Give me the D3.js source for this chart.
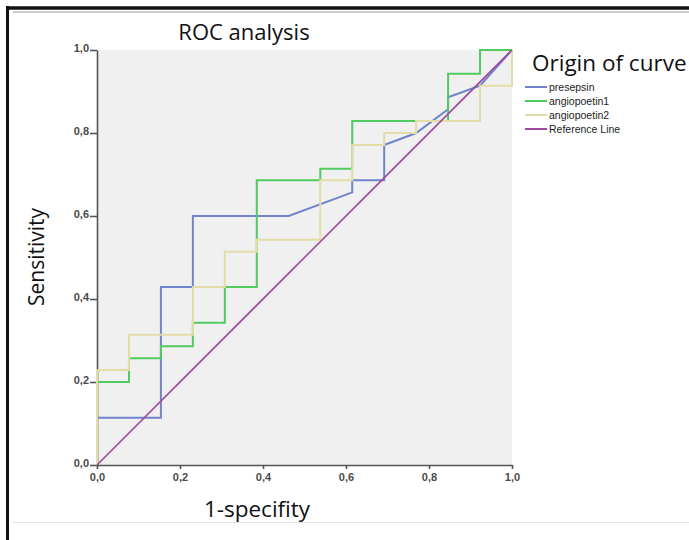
<!DOCTYPE html>
<html>
<head>
<meta charset="utf-8">
<script src="https://cdn.jsdelivr.net/npm/d3@7"></script>
<style>
  body { margin: 0; background: #fff; }
  svg { display: block; }
</style>
</head>
<body>
<div id="chart"></div>
<script>
// ROC points (1-specificity, sensitivity)
var presepsinX = [0, 0, 0.154, 0.154, 0.231, 0.231, 0.462, 0.615, 0.615, 0.692, 0.692, 0.769, 0.846, 0.846, 0.923, 1];
var presepsinY = [0, 0.114, 0.114, 0.429, 0.429, 0.6, 0.6, 0.657, 0.686, 0.686, 0.771, 0.8, 0.857, 0.886, 0.914, 1];

var angio1X = [0, 0, 0.077, 0.077, 0.154, 0.154, 0.231, 0.231, 0.308, 0.308, 0.385, 0.385, 0.538, 0.538, 0.615, 0.615, 0.846, 0.846, 0.923, 0.923, 1];
var angio1Y = [0, 0.2, 0.2, 0.257, 0.257, 0.286, 0.286, 0.343, 0.343, 0.429, 0.429, 0.686, 0.686, 0.714, 0.714, 0.829, 0.829, 0.943, 0.943, 1, 1];

var angio2X = [0, 0, 0.077, 0.077, 0.231, 0.231, 0.308, 0.308, 0.385, 0.385, 0.538, 0.538, 0.615, 0.615, 0.692, 0.692, 0.769, 0.769, 0.923, 0.923, 1, 1];
var angio2Y = [0, 0.229, 0.229, 0.314, 0.314, 0.429, 0.429, 0.514, 0.514, 0.543, 0.543, 0.686, 0.686, 0.771, 0.771, 0.8, 0.8, 0.829, 0.829, 0.914, 0.914, 1];

var refX = [0, 1];
var refY = [0, 1];

var seriesNames = ["presepsin", "angiopoetin1", "angiopoetin2", "Reference Line"];
var tickValues = [0, 0.2, 0.4, 0.6, 0.8, 1.0];

var colors = ["#6f84cc", "#4fcb5f", "#e2dca9", "#9e4a9c"];

var W = 689, H = 540;
var margin = {top: 50, right: 177, bottom: 75, left: 97},
    width = W - margin.left - margin.right,
    height = H - margin.top - margin.bottom;

var root = d3.select("#chart")
  .append("svg")
    .attr("width", W)
    .attr("height", H);

// frame of the screenshot
root.append("rect").attr("x", 0).attr("y", 0).attr("width", W).attr("height", H).attr("fill", "#fff");
root.append("line").attr("x1", 6).attr("x2", W).attr("y1", 8).attr("y2", 8)
  .attr("stroke", "#111").attr("stroke-width", 3.5);
root.append("line").attr("x1", 7.5).attr("x2", 7.5).attr("y1", 6).attr("y2", H)
  .attr("stroke", "#111").attr("stroke-width", 3);
root.append("line").attr("x1", 13).attr("x2", W).attr("y1", 12).attr("y2", 12)
  .attr("stroke", "#999").attr("stroke-width", 1);
root.append("line").attr("x1", 13).attr("x2", W).attr("y1", 522.5).attr("y2", 522.5)
  .attr("stroke", "#e4e4e4").attr("stroke-width", 1);

var svg = root.append("g")
  .attr("transform", "translate(" + margin.left + "," + margin.top + ")");

var x = d3.scaleLinear().domain([0, 1]).range([0, width]);
var y = d3.scaleLinear().domain([0, 1]).range([height, 0]);

svg.append("rect")
  .attr("width", width)
  .attr("height", height)
  .attr("fill", "#f0f0f0");

var fmt = function(d) { return d3.format(".1f")(d).replace(".", ","); };

var xAxis = svg.append("g")
  .attr("transform", "translate(0," + height + ")")
  .call(d3.axisBottom(x).tickValues(tickValues).tickFormat(fmt).tickSizeInner(4).tickSizeOuter(0));
var yAxis = svg.append("g")
  .call(d3.axisLeft(y).tickValues(tickValues).tickFormat(fmt).tickSizeInner(7).tickSizeOuter(0));

[xAxis, yAxis].forEach(function(a) {
  a.select(".domain").attr("stroke", "#555").attr("stroke-width", 1.6);
  a.selectAll(".tick line").attr("stroke", "#555").attr("stroke-width", 1.6);
  a.selectAll(".tick text")
    .attr("fill", "#4a4a4a")
    .style("font-family", "'Liberation Sans', Arial, sans-serif")
    .style("font-size", "11px")
    .style("font-weight", "bold");
});
xAxis.selectAll(".tick text").attr("dy", "0.85em");
yAxis.selectAll(".tick text").attr("x", -8).attr("dy", "0.1em");

// curves
var line = d3.line()
  .x(function(d) { return x(d[0]); })
  .y(function(d) { return y(d[1]); });

var curves = [
  d3.zip(presepsinX, presepsinY),
  d3.zip(angio1X, angio1Y),
  d3.zip(angio2X, angio2Y),
  d3.zip(refX, refY)
];

svg.selectAll("path.curve")
  .data(curves)
  .enter()
  .append("path")
    .attr("class", "curve")
    .attr("fill", "none")
    .attr("stroke", function(d, i) { return colors[i]; })
    .attr("stroke-width", function(d, i) { return i === 3 ? 1.6 : 2; })
    .attr("d", line);

// titles
var textFont = "'Open Sans', 'Noto Sans', sans-serif";

root.append("text")
  .attr("x", 244).attr("y", 40)
  .attr("text-anchor", "middle")
  .style("font-family", textFont).style("font-size", "22px")
  .attr("fill", "#111")
  .text("ROC analysis");

root.append("text")
  .attr("transform", "translate(44,257) rotate(-90)")
  .attr("text-anchor", "middle")
  .style("font-family", textFont).style("font-size", "21px")
  .attr("fill", "#111")
  .text("Sensitivity");

root.append("text")
  .attr("x", 257).attr("y", 517)
  .attr("text-anchor", "middle")
  .style("font-family", textFont).style("font-size", "22.5px")
  .attr("fill", "#111")
  .text("1-specifity");

// legend
var legend = root.append("g").attr("transform", "translate(525,0)");
legend.append("text")
  .attr("x", 7).attr("y", 71)
  .style("font-family", textFont).style("font-size", "22.5px")
  .attr("fill", "#111")
  .text("Origin of curve");

var items = legend.selectAll("g.item")
  .data(seriesNames)
  .enter()
  .append("g")
    .attr("class", "item")
    .attr("transform", function(d, i) { return "translate(0," + (87 + i * 14) + ")"; });
items.append("line")
  .attr("x1", 0).attr("x2", 22)
  .attr("stroke", function(d, i) { return colors[i]; })
  .attr("stroke-width", 2);
items.append("text")
  .attr("x", 24).attr("dy", "0.35em")
  .style("font-family", "'Liberation Sans', Arial, sans-serif")
  .style("font-size", "10.5px")
  .attr("fill", "#222")
  .text(function(d) { return d; });
</script>
</body>
</html>
